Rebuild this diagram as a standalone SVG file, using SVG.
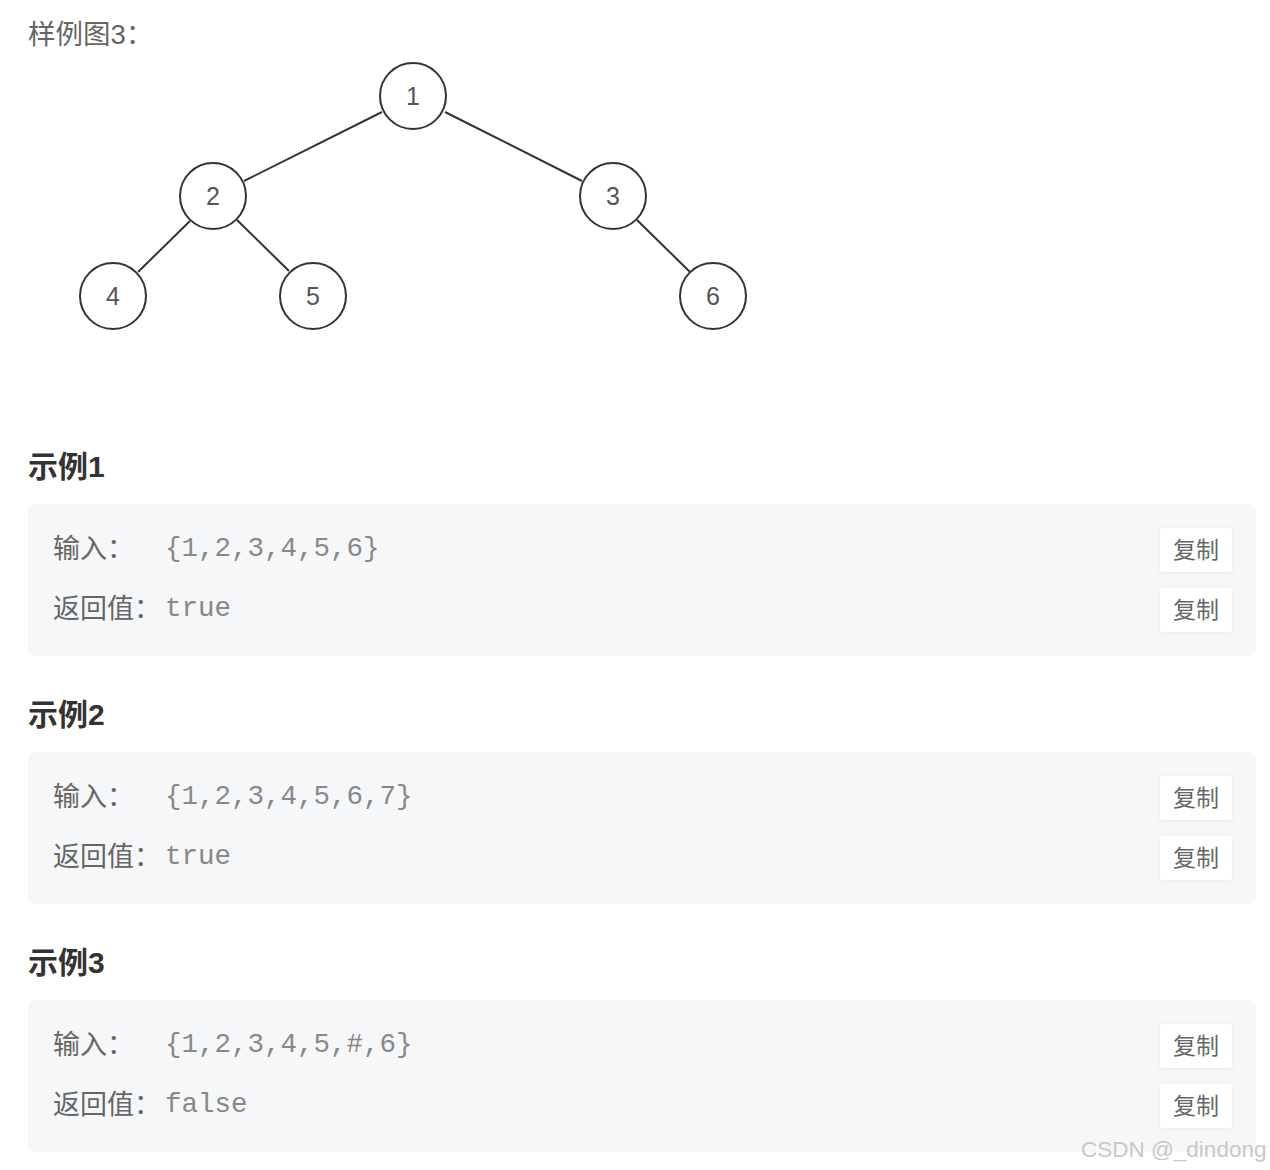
<svg xmlns="http://www.w3.org/2000/svg" width="1270" height="1170" viewBox="0 0 1270 1170">
<style>
.cap{font-family:"Liberation Sans","Noto Sans CJK SC",sans-serif;font-size:27.5px;fill:#666}
.node circle{fill:#fff;stroke:#333;stroke-width:2}
.node text{font-family:"Liberation Sans",Arial,sans-serif;font-size:25px;fill:#555;text-anchor:middle}
.edges line{stroke:#333;stroke-width:2}
.h{font-family:"Liberation Sans","Noto Sans CJK SC",sans-serif;font-size:30px;font-weight:bold;fill:#333}
.panel{fill:#f6f7f9}
.lbl{font-family:"Noto Sans CJK SC",sans-serif;font-size:27px;fill:#666}
.code{font-family:"Liberation Mono","Courier New",monospace;font-size:27.5px;fill:#888}
.btn rect{fill:#fff}
.btn text{font-family:"Noto Sans CJK SC",sans-serif;font-size:23px;fill:#666;text-anchor:middle}
.wm{font-family:"Liberation Sans",Arial,sans-serif;font-size:22.5px;fill:#c8c8c8}
</style>
<defs>
<filter id="sh" x="-20%" y="-20%" width="140%" height="160%"><feDropShadow dx="0" dy="1" stdDeviation="2" flood-color="#000" flood-opacity="0.06"/></filter>
</defs>
<text class="cap" x="28" y="44">样例图3：</text>
<g class="edges">
<line x1="382" y1="112" x2="244" y2="181"/>
<line x1="445" y1="112" x2="582" y2="181"/>
<line x1="190" y1="221" x2="138" y2="272"/>
<line x1="237" y1="220" x2="289" y2="271"/>
<line x1="637" y1="220" x2="690" y2="272"/>
</g>
<g id="n1" class="node"><circle cx="413" cy="96" r="33"/><text x="413" y="105">1</text></g>
<g id="n2" class="node"><circle cx="213" cy="196" r="33"/><text x="213" y="205">2</text></g>
<g id="n3" class="node"><circle cx="613" cy="196" r="33"/><text x="613" y="205">3</text></g>
<g id="n4" class="node"><circle cx="113" cy="296" r="33"/><text x="113" y="305">4</text></g>
<g id="n5" class="node"><circle cx="313" cy="296" r="33"/><text x="313" y="305">5</text></g>
<g id="n6" class="node"><circle cx="713" cy="296" r="33"/><text x="713" y="305">6</text></g>

<g id="ex1">
<text class="h" x="28" y="477">示例1</text>
<rect class="panel" x="28" y="504" width="1228" height="152" rx="7"/>
<text class="lbl" x="53" y="558">输入：</text>
<text class="code" x="165" y="556">{1,2,3,4,5,6}</text>
<text class="lbl" x="53" y="618">返回值：</text>
<text class="code" x="165" y="616">true</text>
<g class="btn"><rect x="1160" y="528" width="72" height="44" rx="3" filter="url(#sh)"/><text x="1196" y="558">复制</text></g>
<g class="btn"><rect x="1160" y="588" width="72" height="44" rx="3" filter="url(#sh)"/><text x="1196" y="618">复制</text></g>
</g>
<g id="ex2">
<text class="h" x="28" y="725">示例2</text>
<rect class="panel" x="28" y="752" width="1228" height="152" rx="7"/>
<text class="lbl" x="53" y="806">输入：</text>
<text class="code" x="165" y="804">{1,2,3,4,5,6,7}</text>
<text class="lbl" x="53" y="866">返回值：</text>
<text class="code" x="165" y="864">true</text>
<g class="btn"><rect x="1160" y="776" width="72" height="44" rx="3" filter="url(#sh)"/><text x="1196" y="806">复制</text></g>
<g class="btn"><rect x="1160" y="836" width="72" height="44" rx="3" filter="url(#sh)"/><text x="1196" y="866">复制</text></g>
</g>
<g id="ex3">
<text class="h" x="28" y="973">示例3</text>
<rect class="panel" x="28" y="1000" width="1228" height="152" rx="7"/>
<text class="lbl" x="53" y="1054">输入：</text>
<text class="code" x="165" y="1052">{1,2,3,4,5,#,6}</text>
<text class="lbl" x="53" y="1114">返回值：</text>
<text class="code" x="165" y="1112">false</text>
<g class="btn"><rect x="1160" y="1024" width="72" height="44" rx="3" filter="url(#sh)"/><text x="1196" y="1054">复制</text></g>
<g class="btn"><rect x="1160" y="1084" width="72" height="44" rx="3" filter="url(#sh)"/><text x="1196" y="1114">复制</text></g>
</g>
<text class="wm" x="1081" y="1157">CSDN @_dindong</text>
</svg>
